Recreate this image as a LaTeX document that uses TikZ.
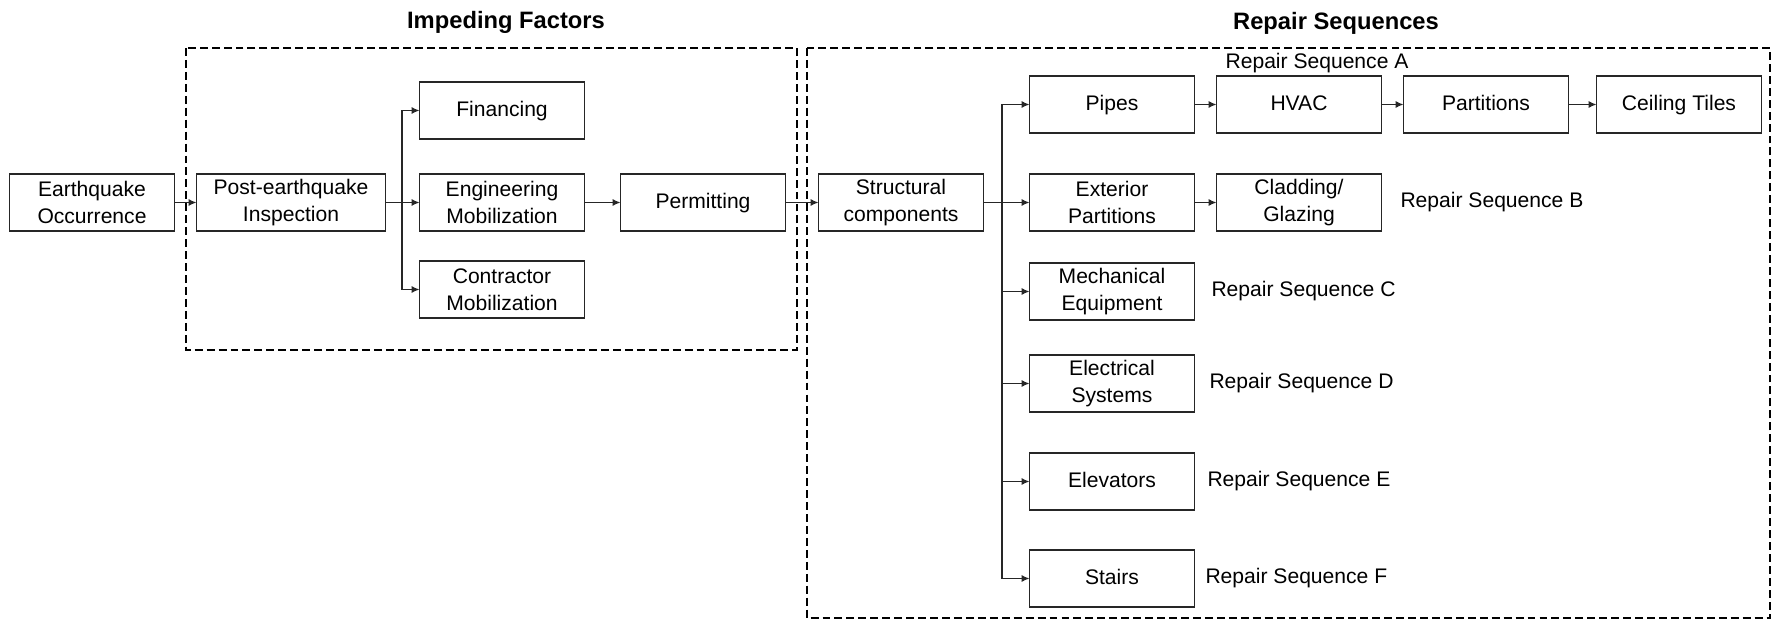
\documentclass[tikz,border=0pt]{standalone}
\usepackage{fontspec}
\setmainfont{Liberation Sans}
\usetikzlibrary{positioning,arrows.meta}

\begin{document}
\begin{tikzpicture}[node distance=0 cm,outer sep = 0pt,inner sep = 2pt]
      \tikzset{box/.style={align=center,shape=rectangle,minimum height=1.14cm,minimum width=3.3cm,draw=black!85,line width=0.8pt,font=\fontsize{12}{15.5}\selectfont}}
      \tikzset{onebox/.style={box,text height=1.75ex,text depth=0.45ex}}
      \tikzset{widebox/.style={box,minimum width=3.78cm}}
      \tikzset{seqlabel/.style={inner sep=0pt,font=\fontsize{12}{15.5}\selectfont}}
      \tikzset{title/.style={font=\fontsize{13.5}{16}\selectfont\bfseries}}
      \tikzset{frame/.style={dash pattern=on 4.5pt off 2.3pt,line width=0.8pt}}
      \tikzset{wire/.style={line width=0.7pt,draw=black!85}}
      \tikzset{link/.style={wire,-{Latex[length=4.5pt,width=4pt]}}}

      \useasboundingbox (0,0) rectangle (35.54,-12.42);

      % impeding factors
      \node [box] (quake) at (1.84,-4.05) {Earthquake\\Occurrence};
      \node [widebox,right=0.44cm of quake] (inspect) {Post-earthquake\\Inspection};
      \node [box,right=0.68cm of inspect] (engmob) {Engineering\\Mobilization};
      \node [onebox,above=0.7cm of engmob] (finance) {Financing};
      \node [box,below=0.6cm of engmob] (conmob) {Contractor\\Mobilization};
      \node [onebox,right=0.72cm of engmob] (permit) {Permitting};

      % repair sequences
      \node [box,right=0.66cm of permit] (struct) {Structural\\components};
      \node [box,right=0.92cm of struct] (extpart) {Exterior\\Partitions};
      \node [box,right=0.44cm of extpart] (cladding) {Cladding/\\Glazing};
      \node [onebox,above=0.82cm of extpart] (pipes) {Pipes};
      \node [onebox,right=0.44cm of pipes] (hvac) {HVAC};
      \node [onebox,right=0.44cm of hvac] (parts) {Partitions};
      \node [onebox,right=0.56cm of parts] (ceiling) {Ceiling Tiles};
      \node [box,below=0.64cm of extpart] (mech) {Mechanical\\Equipment};
      \node [box,below=0.7cm of mech] (elec) {Electrical\\Systems};
      \node [onebox,below=0.82cm of elec] (elev) {Elevators};
      \node [onebox,below=0.8cm of elev] (stairs) {Stairs};

      \node [seqlabel] (seqA) at (26.34,-1.26) {Repair Sequence A};
      \node [seqlabel,right=0.38cm of cladding] (seqB) {Repair Sequence B};
      \node [seqlabel,right=0.34cm of mech] (seqC) {Repair Sequence C};
      \node [seqlabel,right=0.3cm of elec] (seqD) {Repair Sequence D};
      \node [seqlabel,right=0.26cm of elev] (seqE) {Repair Sequence E};
      \node [seqlabel,right=0.22cm of stairs] (seqF) {Repair Sequence F};

      % dashed groups and their titles
      \draw [frame] (3.72,-0.96) rectangle (15.94,-7.0);
      \draw [frame] (16.14,-0.96) rectangle (35.4,-12.36);
      \node [title] (impeding) at (10.12,-0.44) {Impeding Factors};
      \node [title] (repair) at (26.72,-0.46) {Repair Sequences};

      % arrows
      \draw [link] (quake) -- (inspect);
      \draw [wire] (inspect.east) -- ++(0.33,0) coordinate (fork1);
      \draw [link] (fork1) -- (engmob);
      \draw [link] (fork1) |- (finance);
      \draw [link] (fork1) |- (conmob);
      \draw [link] (engmob) -- (permit);
      \draw [link] (permit) -- (struct);
      \draw [wire] (struct.east) -- ++(0.37,0) coordinate (fork2);
      \draw [link] (fork2) -- (extpart);
      \foreach \n in {pipes,mech,elec,elev,stairs}
        \draw [link] (fork2) |- (\n);
      \draw [link] (pipes) -- (hvac);
      \draw [link] (hvac) -- (parts);
      \draw [link] (parts) -- (ceiling);
      \draw [link] (extpart) -- (cladding);
\end{tikzpicture}
\end{document}
